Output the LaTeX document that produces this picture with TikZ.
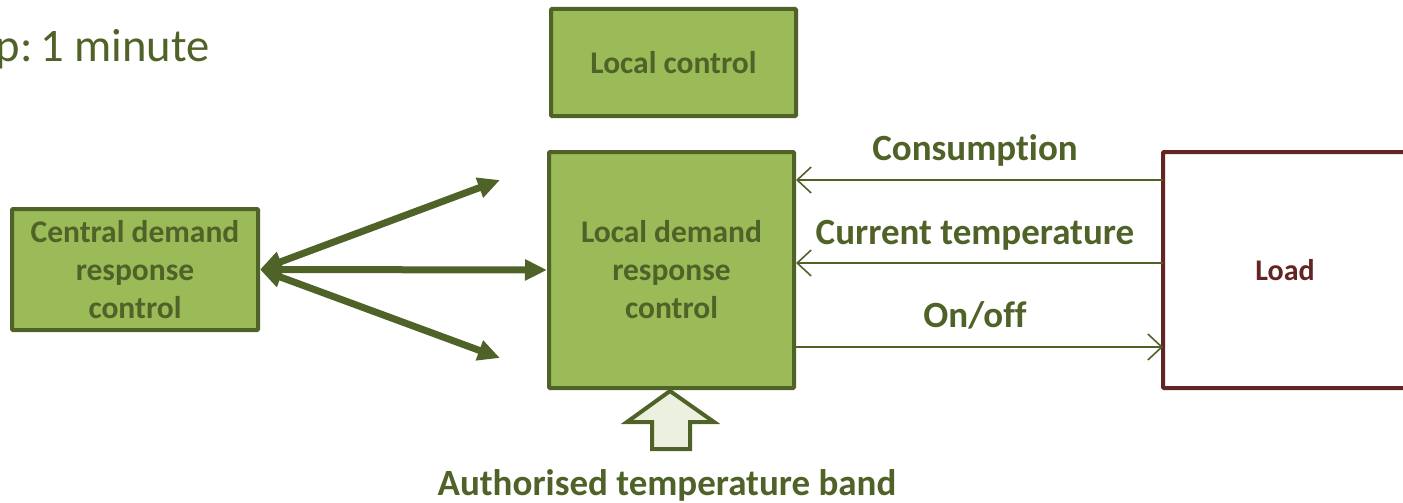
\documentclass[tikz,border=0pt]{standalone}
\usepackage{fontspec}
\setmainfont{Carlito}[Ligatures=NoCommon]
\usetikzlibrary{arrows.meta,calc}
\definecolor{olive}{HTML}{4F6228}
\definecolor{leaf}{HTML}{9BBB59}
\definecolor{pale}{HTML}{EBF1DE}
\definecolor{brick}{HTML}{632523}
\tikzset{
  ctrlbox/.style={draw=olive, fill=leaf, line width=4pt, rounded corners=1pt,
    minimum width=245pt, text=olive, align=center,
    font=\fontsize{31.5}{38}\selectfont\bfseries},
  loadbox/.style={draw=brick, fill=white, line width=4pt, rounded corners=1pt,
    minimum width=244pt, minimum height=236pt, text=brick,
    font=\fontsize{30}{36}\selectfont\bfseries},
  thick link/.style={draw=olive, line width=7pt,
    {Triangle[length=22pt,width=20pt]}-{Triangle[length=22pt,width=20pt]}},
  signal/.style={draw=olive, line width=1.6pt,
    -{Straight Barb[length=14pt,width=26pt,line width=1.6pt]}},
  siglabel/.style={text=olive, font=\fontsize{37}{44}\selectfont\bfseries},
}
\begin{document}
\begin{tikzpicture}[x=1pt,y=-1pt]
\useasboundingbox (0,0) rectangle (1403,503);

% time step caption, running off the left edge
\node[anchor=base east, inner sep=0pt, text=olive,
      font=\fontsize{46.6}{56}\selectfont] (step caption) at (210,62) {p:\,1 minute};

% control blocks
\node[ctrlbox, minimum height=107pt] (local) at (673.5,62.5) {Local control};
\node[ctrlbox, minimum height=236pt] (ldr) at (671.5,270) {Local demand\\response\\control};
\node[ctrlbox, minimum width=246pt, minimum height=121pt] (central) at (135,269.5)
  {Central demand\\response\\control};
\node[loadbox] (load) at (1285,270) {Load};

% links from the central controller
\coordinate (up end) at (500,180);
\coordinate (down end) at (500,358);
\draw[thick link] (central.east) -- (up end);
\draw[thick link] (central.east) -- (down end);
\draw[thick link] (central.east) -- (ldr.west);

% signals between the local controller and the load
\coordinate (c1) at (1163,180);
\coordinate (c2) at (1163,263);
\coordinate (c3) at (1163,347);
\draw[signal] (c1) -- (ldr.east |- c1);
\draw[signal] (c2) -- (ldr.east |- c2);
\draw[signal] (ldr.east |- c3) -- (c3);
\node[siglabel, anchor=base] (lab1) at (975,160) {Consumption};
\node[siglabel, anchor=base] (lab2) at (975,244) {Current temperature};
\node[siglabel, anchor=base] (lab3) at (975,327) {On/off};

% authorised band input arrow
\draw[draw=olive, fill=pale, line width=4pt, line join=miter]
  (670,391) -- (714,422) -- (690,422) -- (690,449) -- (652,449) -- (652,422) -- (627,422) -- cycle;
\node[siglabel, anchor=base] (band) at (667,495) {Authorised temperature band};
\end{tikzpicture}
\end{document}
